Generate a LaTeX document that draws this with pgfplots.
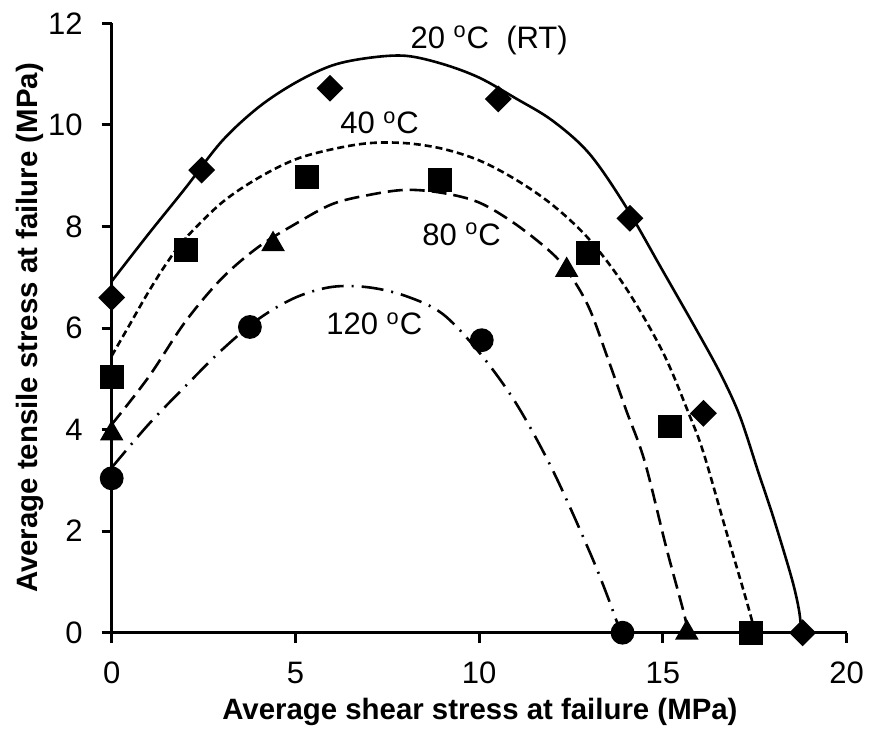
\documentclass[border=0pt]{standalone}
\usepackage{fontspec}
\setmainfont{Liberation Sans}
\usepackage{pgfplots}
\pgfplotsset{compat=1.18}

\begin{document}
\begin{tikzpicture}
\begin{axis}[
  scale only axis,
  width=367.5pt, height=304.7pt,
  xmin=0, xmax=20, ymin=0, ymax=12,
  axis x line=bottom, axis y line=left,
  axis line style={-, line width=1.5pt},
  xtick={0,5,...,20}, ytick={0,2,...,12},
  tick align=outside,
  major tick length=5pt,
  tick style={line width=1.5pt, black},
  /pgf/number format/assume math mode=true,
  tick label style={font=\fontsize{15.5}{18}\selectfont, inner sep=0pt},
  xticklabel style={anchor=north},
  yticklabel style={anchor=east},
  xticklabel shift=9.5pt,
  yticklabel shift=9.3pt,
  xlabel={Average shear stress at failure (MPa)},
  ylabel={Average tensile stress at failure (MPa)},
  label style={font=\fontsize{14.7}{17}\selectfont\bfseries, inner sep=0pt},
  xlabel style={at={(axis description cs:0.501,-0.1416)}, anchor=base},
  ylabel style={at={(axis description cs:-0.1016,0.5)}, anchor=base, rotate=0},
  clip=false,
  every axis plot/.append style={line width=1.3pt, black},
]

% fitted failure envelopes
\addplot[smooth, tension=0.55] coordinates {
  (0,6.92) (1,7.85) (2,8.75) (3,9.68) (4,10.35) (5,10.83) (6,11.17) (7,11.32)
  (8,11.36) (9,11.2) (10,10.93) (11,10.52) (12,10.08) (13,9.43) (14,8.38)
  (15,7.12) (16,5.85) (16.6,5.05) (17.1,4.25) (17.6,3.15) (18.0,2.28)
  (18.5,1.08) (18.7,0.45) (18.77,0)
};
\addplot[smooth, tension=0.55, dash pattern=on 3.5pt off 2pt] coordinates {
  (0,5.45) (0.5,6.08) (1,6.71) (1.5,7.28) (2,7.76) (3,8.47) (4,8.96) (5,9.32)
  (6,9.52) (7,9.64) (8,9.64) (9,9.53) (10,9.3) (11,8.92) (12,8.42) (13,7.74)
  (14,6.78) (15,5.52) (15.7,4.32) (16.1,3.55) (16.7,2.05) (17.4,0.3) (17.45,0)
};
\addplot[smooth, tension=0.55, dash pattern=on 7.5pt off 3.5pt] coordinates {
  (0,4.1) (1,5.03) (2,6.12) (3,6.98) (4,7.6) (5,8.05) (6,8.44) (7,8.62)
  (8,8.72) (9,8.66) (10,8.47) (11,8.04) (12,7.46) (12.5,7.02) (13,6.38)
  (13.5,5.4) (14,4.38) (14.5,3.38) (15.1,1.65) (15.6,0.3) (15.65,0)
};
\addplot[smooth, tension=0.55, dash pattern=on 11pt off 4pt on 1pt off 4pt] coordinates {
  (0,3.25) (1,4.1) (2,4.85) (3,5.57) (4,6.18) (5,6.6) (6,6.81) (7,6.8)
  (8,6.63) (9,6.28) (10,5.52) (11,4.52) (12,3.2) (13,1.6) (13.5,0.7) (13.85,0)
};

% measured failure points
\addplot[only marks, mark=square*, mark size=4.1pt, mark options={rotate=45, fill=black}] coordinates {
  (0,6.6) (2.45,9.11) (5.94,10.72) (10.52,10.51) (14.1,8.16) (16.1,4.32) (18.8,0)
};
\addplot[only marks, mark=triangle*, mark size=5.5pt, mark options={fill=black}] coordinates {
  (0,3.92) (2.02,7.53) (4.39,7.65) (12.38,7.14) (15.65,0)
};
\addplot[only marks, mark=square*, mark size=5.3pt, mark options={fill=black}] coordinates {
  (0,5.04) (2.02,7.53) (5.31,8.98) (8.93,8.91) (12.97,7.47) (15.19,4.06) (17.4,0)
};
\addplot[only marks, mark=*, mark size=5.3pt, mark options={fill=black}] coordinates {
  (0,3.04) (3.76,6.02) (10.07,5.76) (13.9,0)
};

% temperature labels
\begin{scope}[every node/.style={font=\fontsize{15.5}{18}\selectfont, inner sep=0pt, anchor=base west}]
\node at (axis cs:8.12,11.51) {20 \textsuperscript{o}C\ \ (RT)};
\node at (axis cs:6.21,9.83) {40 \textsuperscript{o}C};
\node at (axis cs:8.44,7.63) {80 \textsuperscript{o}C};
\node at (axis cs:5.83,5.87) {120 \textsuperscript{o}C};
\end{scope}
\end{axis}
\pgfresetboundingbox
\path ([shift={(-55.85pt,-50.65pt)}]current axis.south west)
  rectangle ([shift={(379.15pt,316.35pt)}]current axis.south west);
\end{tikzpicture}
\end{document}
